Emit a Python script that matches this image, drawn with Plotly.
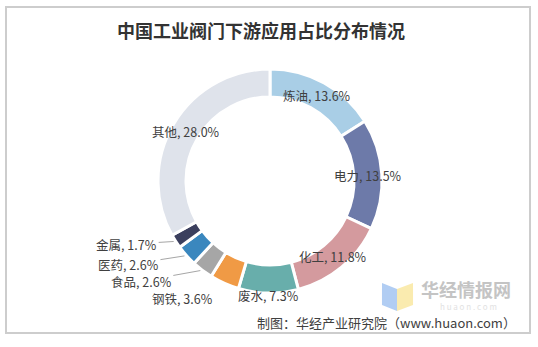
import math
import plotly.graph_objects as go

# Downstream application shares of industrial valves in China (%)
categories = ["炼油", "电力", "化工", "废水", "钢铁", "食品", "医药", "金属", "其他"]
shares = [13.6, 13.5, 11.8, 7.3, 3.6, 2.6, 2.6, 1.7, 28.0]
colors = ["#a9cee6", "#6d7aa9", "#d49a9e", "#68aeab", "#f09a45",
          "#a6a6a6", "#3a87be", "#3b3f5e", "#dfe3eb"]

W, H = 538, 347
CX, CY, R = 270, 181, 112          # donut centre and outer radius in pixels
HOLE = 0.75
FONT = "Noto Sans CJK SC, Noto Sans, sans-serif"
TXT = "#404040"

dom_x = [(CX - R) / W, (CX + R) / W]
dom_y = [1 - (CY + R) / H, 1 - (CY - R) / H]


def to_paper(px, py):
    return px / W, 1 - py / H


def ring_point(radius, deg):
    a = math.radians(deg)
    return to_paper(CX + radius * math.sin(a), CY - radius * math.cos(a))


fig = go.Figure(go.Pie(
    labels=categories,
    values=shares,
    sort=False,
    direction="clockwise",
    rotation=0,
    hole=HOLE,
    marker=dict(colors=colors, line=dict(color="white", width=3)),
    textinfo="none",
    hoverinfo="label+value",
    showlegend=False,
    domain=dict(x=dom_x, y=dom_y),
))

# label placement: text centred in the ring, pushed just outside, or with a leader line
ring_labels = {"炼油": 1.0, "电力": 1.0, "化工": 1.0, "其他": 1.0, "废水": 1.17}
leader_labels = {"钢铁": (-42, 15, False), "食品": (-61, 11, True),
                 "医药": (-58, 9, True), "金属": (-49, 3, True)}

label_font = dict(size=12.5, color=TXT, family=FONT)
total = sum(shares)
annotations = []
start = 0.0
for cat, val in zip(categories, shares):
    mid = (start + val / 2) / total * 360
    start += val
    text = f"{cat}, {val:.1f}%"
    if cat in ring_labels:
        r = R * (1 + HOLE) / 2 * ring_labels[cat]
        x, y = ring_point(r, mid)
        annotations.append(dict(x=x, y=y, xref="paper", yref="paper", text=text,
                                xanchor="center", yanchor="middle",
                                showarrow=False, font=label_font))
    else:
        dx, dy, arrow = leader_labels[cat]
        x, y = ring_point(R, mid)
        if arrow:
            annotations.append(dict(x=x, y=y, xref="paper", yref="paper", text=text,
                                    xanchor="center", yanchor="middle",
                                    showarrow=True, ax=dx, ay=dy, arrowhead=0,
                                    arrowwidth=1, arrowcolor="#a6a6a6", standoff=2,
                                    font=label_font))
        else:
            annotations.append(dict(x=x, y=y, xref="paper", yref="paper", text=text,
                                    xanchor="center", yanchor="middle",
                                    showarrow=False, xshift=dx, yshift=-dy,
                                    font=label_font))

# title, watermark and source line
annotations.append(dict(x=261 / W, y=1 - 30 / H, xref="paper", yref="paper",
                        xanchor="center", yanchor="middle",
                        text="<b>中国工业阀门下游应用占比分布情况</b>", showarrow=False,
                        font=dict(size=18, color="#333333", family=FONT)))
annotations.append(dict(x=466 / W, y=1 - 289 / H, xref="paper", yref="paper",
                        xanchor="center", yanchor="middle",
                        text="<b>华经情报网</b>", showarrow=False,
                        font=dict(size=18, color="#c4c4c4", family=FONT)))
annotations.append(dict(x=468 / W, y=1 - 306 / H, xref="paper", yref="paper",
                        xanchor="center", yanchor="middle",
                        text="h u a o n . c o m", showarrow=False,
                        font=dict(size=8, color="#e2e2e2", family=FONT)))
annotations.append(dict(x=518 / W, y=1 - 322 / H, xref="paper", yref="paper",
                        xanchor="right", yanchor="middle",
                        text="制图：华经产业研究院（www.huaon.com）",
                        showarrow=False, font=dict(size=13, color=TXT, family=FONT)))


def path(points):
    pts = [to_paper(px, py) for px, py in points]
    return "M " + " L ".join(f"{x:.4f},{y:.4f}" for x, y in pts) + " Z"


shapes = [
    dict(type="rect", xref="paper", yref="paper",
         x0=6 / W, x1=530 / W, y0=1 - 333 / H, y1=1 - 7 / H,
         line=dict(color="#cdcdcd", width=2), fillcolor="rgba(0,0,0,0)", layer="below"),
    # open-book logo
    dict(type="path", xref="paper", yref="paper",
         path=path([(382, 283), (397, 289), (397, 311), (382, 305)]),
         fillcolor="#a9c8f2", line=dict(width=0), opacity=0.9),
    dict(type="path", xref="paper", yref="paper",
         path=path([(397, 289), (413, 283), (413, 305), (397, 311)]),
         fillcolor="#f9e9a6", line=dict(width=0), opacity=0.9),
]

fig.update_layout(
    width=W, height=H,
    margin=dict(l=0, r=0, t=0, b=0),
    paper_bgcolor="white",
    plot_bgcolor="white",
    annotations=annotations,
    shapes=shapes,
)

fig.write_html("out.html")
